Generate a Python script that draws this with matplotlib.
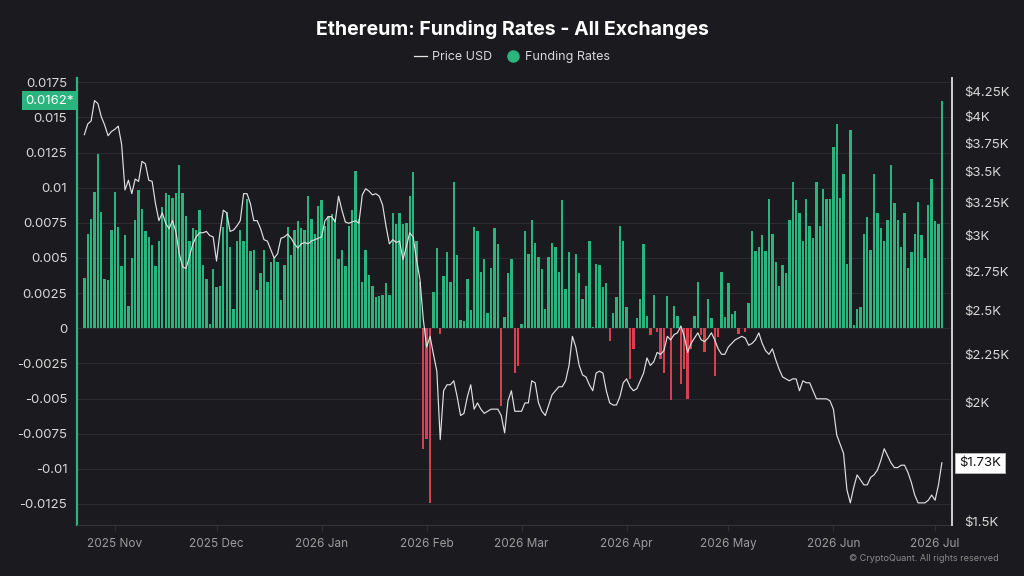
import numpy as np
import pandas as pd
import matplotlib
matplotlib.use("Agg")
import matplotlib.pyplot as plt
import matplotlib.dates as mdates
from matplotlib.lines import Line2D
from matplotlib.ticker import FixedLocator, FuncFormatter, NullLocator


# =========================================================
# Data (daily)
# =========================================================

start_date = "2025-10-23"

funding = [
    0.0036, 0.0067, 0.0078, 0.0097, 0.0124, 0.0083, 0.0035, 0.0034, 0.0070, 0.0097,
    0.0072, 0.0044, 0.0066, 0.0016, 0.0050, 0.0077, 0.0098, 0.0085, 0.0069, 0.0065,
    0.0059, 0.0044, 0.0062, 0.0086, 0.0096, 0.0095, 0.0093, 0.0096, 0.0116, 0.0096,
    0.0080, 0.0062, 0.0071, 0.0070, 0.0084, 0.0045, 0.0035, 0.0003, 0.0042, 0.0029,
    0.0030, 0.0072, 0.0083, 0.0058, 0.0014, 0.0062, 0.0070, 0.0062, 0.0092, 0.0055,
    0.0056, 0.0027, 0.0039, 0.0056, 0.0033, 0.0047, 0.0050, 0.0047, 0.0020, 0.0045,
    0.0072, 0.0052, 0.0070, 0.0076, 0.0071, 0.0070, 0.0094, 0.0078, 0.0067, 0.0087,
    0.0091, 0.0073, 0.0080, 0.0081, 0.0078, 0.0049, 0.0056, 0.0044, 0.0073, 0.0084,
    0.0112, 0.0078, 0.0033, 0.0056, 0.0038, 0.0030, 0.0022, 0.0023, 0.0024, 0.0032,
    0.0024, 0.0082, 0.0074, 0.0082, 0.0074, 0.0075, 0.0094, 0.0111, 0.0062, 0.0033,
    -0.0086, -0.0079, -0.0124, 0.0026, 0.0057, -0.0004, 0.0037, 0.0054, 0.0033, 0.0104,
    0.0052, 0.0006, 0.0005, 0.0035, 0.0013, 0.0072, 0.0069, 0.0040, 0.0049, 0.0011,
    0.0043, 0.0071, 0.0060, -0.0055, 0.0008, 0.0039, 0.0049, -0.0032, -0.0027, 0.0003,
    0.0069, 0.0053, 0.0077, 0.0061, 0.0051, 0.0042, 0.0014, 0.0051, 0.0061, 0.0058,
    0.0040, 0.0091, 0.0028, 0.0054, 0.0000, 0.0053, 0.0039, 0.0021, 0.0030, 0.0062,
    0.0001, 0.0046, 0.0045, 0.0029, 0.0032, -0.0009, 0.0011, 0.0022, 0.0073, 0.0062,
    0.0015, -0.0036, -0.0015, 0.0007, 0.0021, 0.0060, 0.0009, -0.0005, 0.0024, -0.0003,
    -0.0022, -0.0032, 0.0023, -0.0051, 0.0016, 0.0009, -0.0040, -0.0029, -0.0050, -0.0015,
    0.0009, 0.0033, -0.0005, -0.0017, 0.0021, 0.0007, -0.0034, -0.0006, 0.0040, 0.0008,
    0.0032, 0.0010, 0.0012, -0.0004, 0.0000, -0.0003, 0.0018, 0.0069, 0.0055, 0.0058,
    0.0066, 0.0055, 0.0092, 0.0067, 0.0047, 0.0030, 0.0045, 0.0039, 0.0077, 0.0104,
    0.0091, 0.0082, 0.0062, 0.0092, 0.0073, 0.0064, 0.0104, 0.0073, 0.0099, 0.0092,
    0.0092, 0.0129, 0.0145, 0.0093, 0.0110, 0.0046, 0.0141, 0.0002, 0.0014, 0.0015,
    0.0067, 0.0079, 0.0056, 0.0110, 0.0082, 0.0071, 0.0062, 0.0077, 0.0116, 0.0089,
    0.0077, 0.0058, 0.0082, 0.0043, 0.0054, 0.0067, 0.0090, 0.0066, 0.0050, 0.0088,
    0.0106, 0.0076, 0.0074, 0.0162,
]

# ETH price in thousands of USD
price_k = [
    3.83, 3.93, 3.96, 4.16, 4.13, 4.00, 3.92, 3.82, 3.86, 3.88,
    3.91, 3.74, 3.35, 3.43, 3.32, 3.44, 3.42, 3.59, 3.57, 3.43,
    3.42, 3.24, 3.11, 3.17, 3.09, 3.05, 3.11, 3.03, 2.87, 2.78,
    2.77, 2.85, 2.94, 2.99, 3.02, 3.02, 3.03, 3.00, 2.99, 2.82,
    3.02, 3.19, 3.17, 3.03, 3.04, 3.07, 3.11, 3.32, 3.32, 3.24,
    3.11, 3.11, 3.05, 2.97, 2.96, 2.90, 2.84, 2.87, 2.98, 2.99,
    3.01, 2.98, 2.94, 2.91, 2.94, 2.95, 2.94, 2.96, 2.97, 2.98,
    2.99, 3.11, 3.14, 3.14, 3.10, 3.30, 3.19, 3.10, 3.09, 3.10,
    3.11, 3.09, 3.31, 3.36, 3.34, 3.31, 3.32, 3.30, 3.23, 3.07,
    2.94, 2.97, 2.95, 2.96, 2.83, 2.92, 3.02, 2.99, 2.83, 2.70,
    2.45, 2.29, 2.35, 2.25, 2.16, 1.83, 2.06, 2.09, 2.09, 2.11,
    2.03, 1.94, 1.95, 2.03, 2.09, 1.97, 2.00, 1.97, 1.95, 1.96,
    1.97, 1.97, 1.97, 1.94, 1.86, 2.01, 2.06, 1.96, 1.96, 1.96,
    2.00, 2.00, 2.11, 2.10, 2.00, 1.96, 1.94, 1.99, 2.04, 2.06,
    2.08, 2.08, 2.11, 2.19, 2.35, 2.29, 2.19, 2.14, 2.13, 2.09,
    2.06, 2.15, 2.16, 2.15, 2.06, 2.00, 1.99, 1.99, 2.03, 2.10,
    2.12, 2.08, 2.06, 2.07, 2.11, 2.15, 2.23, 2.19, 2.21, 2.26,
    2.25, 2.27, 2.35, 2.33, 2.36, 2.37, 2.41, 2.35, 2.26, 2.31,
    2.34, 2.37, 2.33, 2.32, 2.34, 2.37, 2.33, 2.28, 2.25, 2.25,
    2.29, 2.31, 2.33, 2.34, 2.35, 2.34, 2.30, 2.31, 2.33, 2.37,
    2.31, 2.27, 2.25, 2.28, 2.22, 2.17, 2.13, 2.12, 2.11, 2.12,
    2.12, 2.06, 2.11, 2.10, 2.10, 2.06, 2.02, 2.02, 2.02, 2.02,
    2.01, 1.97, 1.85, 1.81, 1.77, 1.62, 1.57, 1.63, 1.68, 1.66,
    1.64, 1.64, 1.67, 1.68, 1.70, 1.74, 1.79, 1.76, 1.73, 1.71,
    1.71, 1.72, 1.72, 1.69, 1.65, 1.60, 1.57, 1.57, 1.57, 1.58,
    1.60, 1.58, 1.64, 1.73,
]

left_ticks = [-0.0125, -0.01, -0.0075, -0.005, -0.0025, 0, 0.0025, 0.005,
              0.0075, 0.01, 0.0125, 0.015, 0.0175]
right_ticks_k = [1.5, 2, 2.25, 2.5, 2.75, 3, 3.25, 3.5, 3.75, 4, 4.25]

title = "Ethereum: Funding Rates - All Exchanges"


# =========================================================
# Style
# =========================================================

bg = "#1b1b1f"
green = "#2bb47d"
red = "#d9404f"
grid_c = "#2b2b31"
text_c = "#d8d8d8"

plt.rcParams["font.family"] = ["Inter", "DejaVu Sans"]

funding = np.array(funding)
price = np.array(price_k) * 1000
dates = pd.date_range(start_date, periods=len(funding), freq="D")

fig = plt.figure(figsize=(10.24, 5.76), dpi=100, facecolor=bg)
ax = fig.add_axes([0.0752, 0.0885, 0.8545, 0.776])
ax.set_facecolor(bg)


# =========================================================
# Funding rate bars
# =========================================================

colors = np.where(funding >= 0, green, red)
ax.bar(dates, funding, width=0.7, color=colors, linewidth=0, zorder=2)

ax.set_ylim(-0.0140, 0.0178)
ax.set_xlim(pd.Timestamp("2025-10-20 20:00"), pd.Timestamp("2026-07-06"))

ax.yaxis.set_major_locator(FixedLocator(left_ticks))
ax.yaxis.set_major_formatter(FuncFormatter(lambda v, p: "0" if abs(v) < 1e-9 else f"{v:g}"))
ax.grid(axis="y", color=grid_c, linewidth=0.8, zorder=0)
ax.tick_params(axis="y", length=0, pad=7, labelsize=9.5, colors=text_c)

ax.xaxis.set_major_locator(mdates.MonthLocator())
ax.xaxis.set_major_formatter(mdates.DateFormatter("%Y %b"))
ax.tick_params(axis="x", length=4, color="#2e2e34", pad=5, labelsize=8.5, labelcolor="#9c9c9c")

for side in ("top", "right"):
    ax.spines[side].set_visible(False)
ax.spines["left"].set_color(green)
ax.spines["left"].set_linewidth(1.6)
ax.spines["bottom"].set_color("#34343a")
ax.spines["bottom"].set_linewidth(0.8)

# latest value marker on the left axis
ax.annotate(
    "0.0162*", xy=(0, funding[-1]), xycoords=("axes fraction", "data"),
    xytext=(-2, 0), textcoords="offset points", ha="right", va="center",
    fontsize=9.5, color="white",
    bbox=dict(boxstyle="square,pad=0.3", fc=green, ec="none"),
)


# =========================================================
# Price line (log scale on the right)
# =========================================================

ax2 = ax.twinx()
ax2.plot(dates, price, color="#e0e0e0", linewidth=0.85, zorder=3)
ax2.set_yscale("log")
ax2.set_ylim(1488, 4393)
ax2.yaxis.set_major_locator(FixedLocator([t * 1000 for t in right_ticks_k]))
ax2.yaxis.set_major_formatter(FuncFormatter(lambda v, p: f"${v / 1000:g}K"))
ax2.yaxis.set_minor_locator(NullLocator())
ax2.tick_params(axis="y", length=0, pad=9, labelsize=9.5, colors=text_c)

for side in ("top", "left", "bottom"):
    ax2.spines[side].set_visible(False)
ax2.spines["right"].set_color("#cfcfcf")
ax2.spines["right"].set_linewidth(1.4)

ax2.annotate(
    "$1.73K", xy=(1, price[-1]), xycoords=("axes fraction", "data"),
    xytext=(5, 0), textcoords="offset points", ha="left", va="center",
    fontsize=9.5, color="#111111",
    bbox=dict(boxstyle="square,pad=0.3", fc="white", ec="#bbbbbb", lw=0.6),
)


# =========================================================
# Title, legend, footer
# =========================================================

fig.text(0.5, 0.948, title, ha="center", va="center",
         fontsize=14, fontweight="bold", color="white")

handles = [
    Line2D([0], [0], color="#e4e4e4", linewidth=0.9),
    Line2D([0], [0], linestyle="none", marker="o", markersize=8,
           markerfacecolor=green, markeredgecolor=green),
]
fig.legend(handles, ["Price USD", "Funding Rates"], loc="center",
           bbox_to_anchor=(0.5, 0.901), ncol=2, frameon=False,
           fontsize=9, labelcolor=text_c, handlelength=1.0,
           handletextpad=0.4, columnspacing=1.2)

fig.text(0.975, 0.031, "\u00a9 CryptoQuant. All rights reserved", ha="right",
         va="center", fontsize=6.5, color="#8c8c8c")

fig.savefig("out.png", dpi=100, facecolor=bg)
